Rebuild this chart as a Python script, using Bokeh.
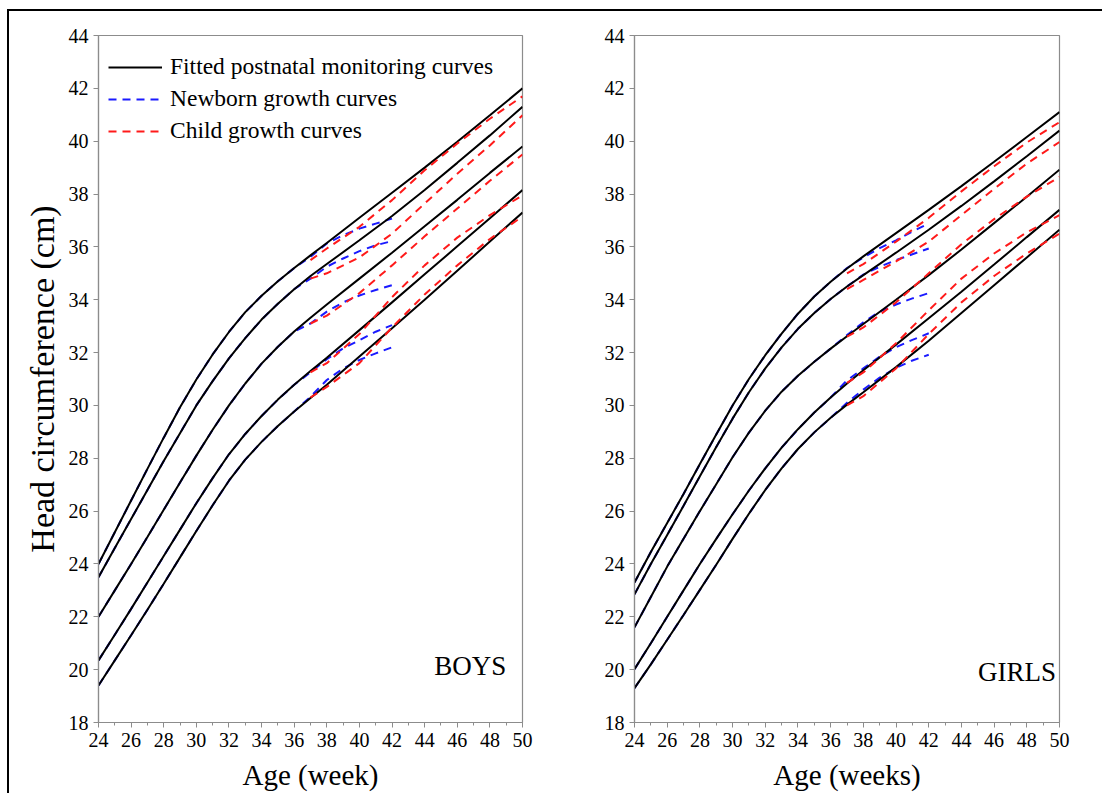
from bokeh.plotting import figure
from bokeh.layouts import row
from bokeh.models import FixedTicker, Legend, LegendItem, Range1d, Label
from bokeh.embed import file_html
from bokeh.resources import INLINE

FONT = "Liberation Serif"

weeks = [24, 25, 26, 27, 28, 29, 30, 31, 32, 33, 34, 35, 36, 37, 38, 40, 42, 44, 46, 48, 50]
percentiles = ["P97", "P90", "P50", "P10", "P3"]

# Fitted postnatal monitoring curves (black)
boys_p97 = [24.0, 25.2, 26.4, 27.6, 28.78, 29.93, 30.98, 31.93, 32.78, 33.53, 34.15, 34.7, 35.2, 35.68, 36.15,
            37.1, 38.05, 39.0, 39.98, 40.98, 42.0]
boys_p90 = [23.5, 24.6, 25.7, 26.8, 27.9, 28.95, 30.0, 30.92, 31.78, 32.55, 33.25, 33.85, 34.4, 34.9, 35.35,
            36.25, 37.17, 38.15, 39.18, 40.22, 41.3]
boys_p50 = [22.0, 23.0, 24.0, 25.02, 26.05, 27.08, 28.1, 29.08, 30.0, 30.83, 31.58, 32.22, 32.8, 33.32, 33.82,
            34.8, 35.78, 36.78, 37.78, 38.8, 39.8]
boys_p10 = [20.35, 21.32, 22.3, 23.3, 24.3, 25.3, 26.3, 27.25, 28.15, 28.92, 29.6, 30.22, 30.78, 31.3, 31.8,
            32.85, 33.9, 34.96, 36.02, 37.08, 38.15]
boys_p3 = [19.4, 20.35, 21.3, 22.27, 23.25, 24.25, 25.25, 26.22, 27.15, 27.95, 28.62, 29.22, 29.77, 30.28, 30.78,
           31.85, 32.92, 34.0, 35.1, 36.2, 37.3]

girls_p97 = [23.3, 24.45, 25.55, 26.65, 27.78, 28.9, 30.0, 31.0, 31.9, 32.72, 33.47, 34.12, 34.68, 35.18, 35.64,
             36.52, 37.4, 38.3, 39.22, 40.16, 41.1]
girls_p90 = [22.85, 24.0, 25.1, 26.2, 27.32, 28.43, 29.5, 30.5, 31.4, 32.2, 32.9, 33.5, 34.03, 34.5, 34.93,
             35.78, 36.65, 37.55, 38.48, 39.43, 40.4]
girls_p50 = [21.6, 22.75, 23.9, 24.95, 26.0, 27.02, 28.04, 28.97, 29.8, 30.52, 31.12, 31.65, 32.15, 32.62, 33.08,
             34.0, 34.93, 35.9, 36.9, 37.9, 38.92]
girls_p10 = [20.02, 21.0, 22.0, 23.0, 24.0, 24.95, 25.88, 26.78, 27.62, 28.4, 29.1, 29.73, 30.3, 30.83, 31.33,
             32.3, 33.3, 34.3, 35.33, 36.37, 37.4]
girls_p3 = [19.3, 20.2, 21.13, 22.07, 23.02, 23.97, 24.95, 25.9, 26.8, 27.62, 28.35, 28.98, 29.53, 30.03, 30.5,
            31.45, 32.45, 33.5, 34.55, 35.6, 36.65]

# Newborn growth curves (blue): weeks 24-36 follow the fitted curves, then these tails
newborn_early_count = 13  # weeks 24..36 of the fitted arrays
newborn_weeks_tail = [37, 38, 39, 40, 41, 42]
boys_nb_p97 = [35.62, 36.13, 36.44, 36.69, 36.88, 37.07]
boys_nb_p90 = [34.8, 35.25, 35.56, 35.84, 36.06, 36.22]
boys_nb_p50 = [33.1, 33.55, 33.9, 34.16, 34.37, 34.55]
boys_nb_p10 = [31.25, 31.75, 32.16, 32.47, 32.79, 33.04]
boys_nb_p3 = [30.33, 30.96, 31.4, 31.72, 31.97, 32.2]

girls_nb_p97 = [35.2, 35.6, 35.95, 36.25, 36.58, 36.88]
girls_nb_p90 = [34.5, 34.95, 35.25, 35.5, 35.72, 35.94]
girls_nb_p50 = [32.66, 33.15, 33.55, 33.82, 34.05, 34.25]
girls_nb_p10 = [30.95, 31.4, 31.85, 32.2, 32.48, 32.73]
girls_nb_p3 = [30.1, 30.6, 31.05, 31.42, 31.7, 31.92]

# Child growth curves (red)
child_weeks = [37, 38, 40, 42, 44, 46, 48, 50]
boys_ch_p97 = [35.5, 35.94, 36.76, 37.77, 38.9, 39.91, 40.85, 41.7]
boys_ch_p90 = [34.8, 35.0, 35.6, 36.5, 37.64, 38.77, 39.84, 40.98]
boys_ch_p50 = [33.1, 33.4, 34.25, 35.3, 36.4, 37.45, 38.5, 39.5]
boys_ch_p10 = [31.25, 31.6, 32.7, 34.1, 35.3, 36.35, 37.2, 37.95]
boys_ch_p3 = [30.3, 30.7, 31.6, 32.95, 34.2, 35.3, 36.3, 37.15]

girls_ch_p97 = [35.0, 35.35, 36.2, 37.1, 38.1, 39.05, 39.95, 40.72]
girls_ch_p90 = [34.4, 34.75, 35.45, 36.2, 37.2, 38.2, 39.15, 39.97]
girls_ch_p50 = [32.6, 32.95, 33.9, 35.0, 36.1, 37.05, 37.9, 38.65]
girls_ch_p10 = [30.85, 31.25, 32.35, 33.6, 34.8, 35.75, 36.55, 37.2]
girls_ch_p3 = [30.0, 30.35, 31.4, 32.7, 33.9, 34.9, 35.75, 36.5]

boys_label_y = [42.0, 41.17, 39.62, 38.14, 37.35]
girls_label_y = [41.17, 40.3, 38.86, 37.39, 36.48]

x_major = list(range(24, 51, 2))
x_minor = list(range(25, 50, 2))
y_major = list(range(18, 45, 2))

FRAME_H = 688


def make_panel(fitted, newborn, child, label_y, sex_text, sex_xy, xlabel,
               width, border_left, border_right, legend=False, ylabel=None):
    p = figure(width=width, height=24 + FRAME_H + 70, output_backend="svg", toolbar_location=None,
               x_range=Range1d(24, 50), y_range=Range1d(18, 44),
               min_border_left=border_left, min_border_right=border_right,
               min_border_top=24, min_border_bottom=70)
    p.grid.visible = False
    p.background_fill_color = "white"
    p.border_fill_color = "white"
    p.outline_line_color = "#8c8c8c"
    p.outline_line_width = 1.2

    for ax in (p.xaxis[0], p.yaxis[0]):
        ax.axis_line_color = "#8c8c8c"
        ax.axis_line_width = 1.2
        ax.major_tick_line_color = "#8c8c8c"
        ax.minor_tick_line_color = "#8c8c8c"
        ax.major_tick_in = 0
        ax.major_tick_out = 5
        ax.minor_tick_in = 0
        ax.minor_tick_out = 3
        ax.major_label_text_font = FONT
        ax.major_label_text_font_size = "20px"
        ax.major_label_text_color = "black"
        ax.axis_label_text_font = FONT
        ax.axis_label_text_font_style = "normal"
        ax.axis_label_text_color = "black"
    p.xaxis.ticker = FixedTicker(ticks=x_major, minor_ticks=x_minor)
    p.yaxis.ticker = FixedTicker(ticks=y_major, minor_ticks=[])
    p.xaxis.major_label_standoff = 5
    p.yaxis.major_label_standoff = 5
    p.xaxis.axis_label = xlabel
    p.xaxis.axis_label_text_font_size = "29px"
    p.xaxis.axis_label_standoff = 9
    if ylabel:
        p.yaxis.axis_label = ylabel
        p.yaxis.axis_label_text_font_size = "34px"
        p.yaxis.axis_label_standoff = 5

    blue_renderers = []
    for fit, tail in zip(fitted, newborn):
        xs = weeks[:newborn_early_count] + newborn_weeks_tail
        ys = fit[:newborn_early_count] + tail
        r = p.line(xs, ys, line_color="#1a1aff", line_width=2, line_dash="8 6")
        blue_renderers.append(r)
    black_renderers = []
    for fit in fitted:
        r = p.line(weeks, fit, line_color="black", line_width=2)
        black_renderers.append(r)
    red_renderers = []
    for ch in child:
        r = p.line(child_weeks, ch, line_color="#ff1a1a", line_width=2, line_dash="8 6")
        red_renderers.append(r)

    for name, ly in zip(percentiles, label_y):
        p.add_layout(Label(x=50, y=ly, text=name, x_offset=5, text_baseline="middle",
                           text_align="left", text_font=FONT, text_font_size="21px",
                           text_color="black"))

    p.add_layout(Label(x=sex_xy[0], y=sex_xy[1], text=sex_text, text_align="center",
                       text_baseline="middle", text_font=FONT, text_font_size="27px",
                       text_color="black"))

    if legend:
        lg = Legend(items=[
            LegendItem(label="Fitted postnatal monitoring curves", renderers=[black_renderers[0]]),
            LegendItem(label="Newborn growth curves", renderers=[blue_renderers[0]]),
            LegendItem(label="Child growth curves", renderers=[red_renderers[0]]),
        ])
        lg.label_text_font = FONT
        lg.label_text_font_size = "23.5px"
        lg.label_text_color = "black"
        lg.glyph_width = 54
        lg.glyph_height = 26
        lg.label_height = 26
        lg.spacing = 5
        lg.padding = 0
        lg.margin = 0
        lg.label_standoff = 8
        lg.border_line_alpha = 0
        lg.background_fill_alpha = 0
        legend_h = 3 * 26 + 2 * 5
        lg.location = (10, FRAME_H - 22 - legend_h)
        p.add_layout(lg)
    return p


boys = make_panel([boys_p97, boys_p90, boys_p50, boys_p10, boys_p3],
                  [boys_nb_p97, boys_nb_p90, boys_nb_p50, boys_nb_p10, boys_nb_p3],
                  [boys_ch_p97, boys_ch_p90, boys_ch_p50, boys_ch_p10, boys_ch_p3],
                  boys_label_y, "BOYS", (46.8, 20.15), "Age (week)",
                  width=559, border_left=89, border_right=46, legend=True,
                  ylabel="Head circumference (cm)")
girls = make_panel([girls_p97, girls_p90, girls_p50, girls_p10, girls_p3],
                   [girls_nb_p97, girls_nb_p90, girls_nb_p50, girls_nb_p10, girls_nb_p3],
                   [girls_ch_p97, girls_ch_p90, girls_ch_p50, girls_ch_p10, girls_ch_p3],
                   girls_label_y, "GIRLS", (47.4, 19.9), "Age (weeks)",
                   width=534, border_left=66, border_right=43)

layout = row(boys, girls, styles={"border-left": "2px solid black",
                                  "border-top": "2px solid black",
                                  "margin-left": "7px",
                                  "margin-top": "9px"})

open("out.html", "w").write(file_html(layout, INLINE))
